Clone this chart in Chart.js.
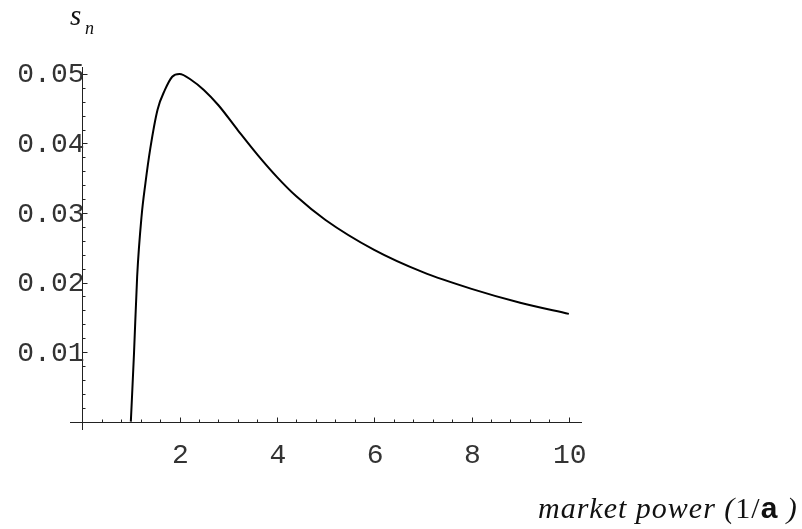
<!DOCTYPE html>
<html>
<head>
<meta charset="utf-8">
<script src="https://cdn.jsdelivr.net/npm/chart.js@4.4.1/dist/chart.umd.min.js"></script>
<style>
  body { margin: 0; background: #fff; }
  #wrap { width: 802px; height: 529px; }
</style>
</head>
<body>
<div id="wrap"><canvas id="myChart" width="802" height="529"></canvas></div>
<script>
// curve
var xValues = [1.0, 1.065, 1.13, 1.22, 1.3, 1.4, 1.55, 1.7, 1.85, 2.0, 2.25, 2.5, 2.8, 3.2, 3.6, 4.0, 4.4, 5.0, 6.0, 7.0, 8.0, 9.0, 10.0];
var yValues = [0, 0.0098, 0.0209, 0.0295, 0.0343, 0.0393, 0.0449, 0.0477, 0.0496, 0.05, 0.0491, 0.0477, 0.0455, 0.0419, 0.0384, 0.0352, 0.0324, 0.0290, 0.0247, 0.0215, 0.0191, 0.0171, 0.0155];

// tick labels
var xTickValues = [2, 4, 6, 8, 10];
var xTickLabels = ["2", "4", "6", "8", "10"];
var yTickValues = [0.01, 0.02, 0.03, 0.04, 0.05];
var yTickLabels = ["0.01", "0.02", "0.03", "0.04", "0.05"];

var points = [];
for (var i = 0; i < xValues.length; i++) {
  points.push({ x: xValues[i], y: yValues[i] });
}

// mathematica style axes crossing at the origin
var axesPlugin = {
  id: "axes",
  afterDatasetsDraw: function(chart) {
    var ctx = chart.ctx;
    var xs = chart.scales.x;
    var ys = chart.scales.y;
    var area = chart.chartArea;
    var x0 = Math.round(xs.getPixelForValue(0)) + 0.5;
    var y0 = Math.round(ys.getPixelForValue(0)) + 0.5;

    ctx.save();
    ctx.strokeStyle = "#222";
    ctx.lineWidth = 1;
    ctx.beginPath();
    ctx.moveTo(area.left, y0);
    ctx.lineTo(area.right, y0);
    ctx.moveTo(x0, area.top);
    ctx.lineTo(x0, area.bottom);

    // x ticks every 0.4, longer at the labelled ones
    for (var k = 1; k <= 25; k++) {
      var v = k * 0.4;
      var px = Math.round(xs.getPixelForValue(v)) + 0.5;
      var len = (k % 5 === 0) ? 5 : 3;
      ctx.moveTo(px, y0);
      ctx.lineTo(px, y0 - len);
    }
    // y ticks every 0.002
    for (var m = 1; m <= 25; m++) {
      var w = m * 0.002;
      var py = Math.round(ys.getPixelForValue(w)) + 0.5;
      var len2 = (m % 5 === 0) ? 5 : 3;
      ctx.moveTo(x0, py);
      ctx.lineTo(x0 + len2, py);
    }
    ctx.stroke();

    ctx.fillStyle = "#333";
    ctx.font = "28px 'Liberation Mono', monospace";
    ctx.textBaseline = "alphabetic";
    ctx.textAlign = "center";
    for (var a = 0; a < xTickValues.length; a++) {
      ctx.fillText(xTickLabels[a], xs.getPixelForValue(xTickValues[a]) + 1, y0 + 40);
    }
    ctx.textAlign = "right";
    for (var b = 0; b < yTickValues.length; b++) {
      ctx.fillText(yTickLabels[b], x0 + 2, ys.getPixelForValue(yTickValues[b]) + 8.5);
    }

    // y title s_n
    ctx.fillStyle = "#111";
    ctx.textAlign = "left";
    ctx.font = "italic 29px 'Liberation Serif', serif";
    ctx.fillText("s", 70, 25);
    ctx.font = "italic 18px 'Liberation Serif', serif";
    ctx.fillText("n", 85, 34);

    // x title
    var tx = 538, ty = 518;
    var parts = [
      ["market power (", "italic 30px 'Liberation Serif', serif"],
      ["1/", "30px 'Liberation Serif', serif"],
      ["a", "bold 30px 'Liberation Sans', sans-serif"],
      [" )", "italic 30px 'Liberation Serif', serif"]
    ];
    ctx.letterSpacing = "1px";
    for (var p = 0; p < parts.length; p++) {
      ctx.font = parts[p][1];
      ctx.fillText(parts[p][0], tx, ty);
      tx += ctx.measureText(parts[p][0]).width;
    }
    ctx.restore();
  }
};

new Chart("myChart", {
  type: "line",
  data: {
    datasets: [{
      data: points,
      borderColor: "#000",
      borderWidth: 2,
      pointRadius: 0,
      fill: false,
      cubicInterpolationMode: "monotone"
    }]
  },
  options: {
    responsive: false,
    animation: false,
    layout: { padding: { left: 70, right: 220, top: 67, bottom: 99 } },
    plugins: { legend: { display: false }, tooltip: { enabled: false } },
    scales: {
      x: { type: "linear", min: -0.25, max: 10.27, display: false },
      y: { type: "linear", min: -0.0012, max: 0.051, display: false }
    }
  },
  plugins: [axesPlugin]
});
</script>
</body>
</html>
